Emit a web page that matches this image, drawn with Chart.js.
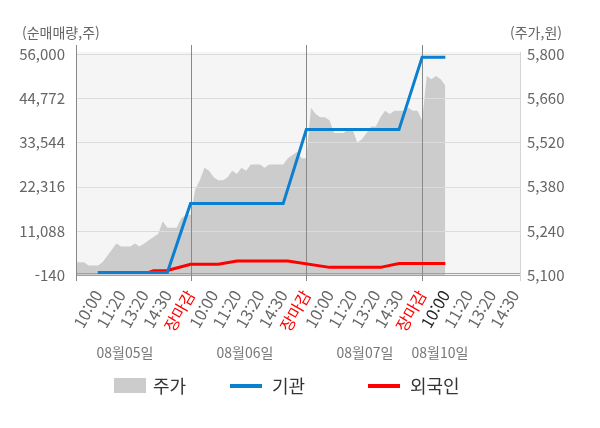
<!DOCTYPE html>
<html lang="ko">
<head>
<meta charset="utf-8">
<script src="https://cdn.jsdelivr.net/npm/chart.js@4.4.1/dist/chart.umd.min.js"></script>
<style>
  html, body { margin: 0; padding: 0; background: #fff; }
  #wrap { width: 600px; height: 428px; position: relative; }
</style>
</head>
<body>
<div id="wrap"><canvas id="chart"></canvas></div>
<script>
// x axis: one unit per time label
const TIME_LABELS = [
  '10:00', '11:20', '13:20', '14:30', '장마감',
  '10:00', '11:20', '13:20', '14:30', '장마감',
  '10:00', '11:20', '13:20', '14:30', '장마감',
  '10:00', '11:20', '13:20', '14:30'
];
const DAY_ENDS = [4, 9, 14];
const NOW_TICK = 15;
const DATE_LABELS = ['08월05일', '08월06일', '08월07일', '08월10일'];

const LEFT_TICKS = [-140, 11088, 22316, 33544, 44772, 56000];
const RIGHT_TICKS = [5100, 5240, 5380, 5520, 5660, 5800];

// price samples, every 0.2 label step starting at -1
const PRICE_X0 = -1;
const PRICE_STEP = 0.2;
const PRICE = [
  5140, 5140, 5140, 5130, 5130, 5130, 5140, 5160, 5180, 5200,
  5190, 5190, 5190, 5200, 5190, 5200, 5210, 5220, 5230, 5270,
  5250, 5250, 5250, 5280, 5290, 5290, 5370, 5400, 5440, 5430,
  5410, 5400, 5400, 5410, 5430, 5420, 5440, 5430, 5450, 5450,
  5450, 5440, 5450, 5450, 5450, 5450, 5470, 5480, 5490, 5470,
  5470, 5630, 5610, 5600, 5600, 5590, 5550, 5550, 5550, 5560,
  5560, 5520, 5530, 5550, 5570, 5570, 5600, 5620, 5610, 5620,
  5620, 5620, 5630, 5620, 5620, 5590, 5730, 5720, 5730, 5720,
  5700
];

// net buying, sample index on the same grid
const INST_AT = [5, 20, 25, 45, 50, 70, 75, 80];
const INST = [500, 500, 18000, 18000, 36800, 36800, 55200, 55200];
const FOREIGN_AT = [5, 16, 17, 20, 25, 31, 35, 46, 55, 66, 70, 80];
const FOREIGN = [500, 500, 950, 1000, 2600, 2600, 3400, 3400, 1800, 1800, 2800, 2800];

const atX = j => PRICE_X0 + j * PRICE_STEP;
const FONT = "'Noto Sans CJK KR', 'Noto Sans', sans-serif";
Chart.defaults.font.family = FONT;

const decor = {
  id: 'decor',
  beforeDatasetsDraw(chart) {
    const { ctx, chartArea: a } = chart;
    ctx.save();
    ctx.fillStyle = '#f5f5f5';
    ctx.fillRect(a.left, a.top - 2, a.right - a.left, a.bottom - a.top + 2);
    ctx.restore();
  },
  afterDatasetDraw(chart, args) {
    if (args.index !== 2) return;
    const { ctx, chartArea: a, scales } = chart;
    const px = v => Math.round(v) + 0.5;
    ctx.save();
    ctx.lineWidth = 1;
    ctx.strokeStyle = '#dcdcdc';
    LEFT_TICKS.forEach(t => {
      const y = px(scales.yL.getPixelForValue(t));
      ctx.beginPath(); ctx.moveTo(a.left, y); ctx.lineTo(a.right, y); ctx.stroke();
    });
    ctx.strokeStyle = '#a0a0a0';
    [a.bottom - 2.5, a.bottom].forEach(yy => {
      const y = px(yy);
      ctx.beginPath(); ctx.moveTo(a.left, y); ctx.lineTo(a.right, y); ctx.stroke();
    });
    ctx.strokeStyle = '#d4d4d4';
    ctx.beginPath(); ctx.moveTo(px(a.right), a.top - 2); ctx.lineTo(px(a.right), a.bottom + 6); ctx.stroke();
    ctx.strokeStyle = '#888';
    const vx = [a.left].concat(DAY_ENDS.map(k => scales.x.getPixelForValue(k)));
    vx.forEach(x => {
      ctx.beginPath(); ctx.moveTo(px(x), a.top - 9); ctx.lineTo(px(x), a.bottom + 6); ctx.stroke();
    });
    ctx.restore();
  },
  afterDraw(chart) {
    const { ctx } = chart;
    ctx.save();
    ctx.textBaseline = 'middle';
    ctx.fillStyle = '#666';
    ctx.font = '14px ' + FONT;
    ctx.textAlign = 'left';
    ctx.fillText('(순매매량,주)', 22, 33);
    ctx.textAlign = 'right';
    ctx.fillText('(주가,원)', 562, 33);

    ctx.fillStyle = '#777';
    ctx.textAlign = 'center';
    const dateX = [125, 245, 365, 440];
    DATE_LABELS.forEach((d, i) => ctx.fillText(d, dateX[i], 353));

    // legend
    const ly = 386;
    ctx.font = '18px ' + FONT;
    ctx.textAlign = 'left';
    ctx.fillStyle = '#cccccc';
    ctx.fillRect(114, ly - 8, 32, 15);
    ctx.lineWidth = 4;
    ctx.strokeStyle = '#0b7fd0';
    ctx.beginPath(); ctx.moveTo(230, ly); ctx.lineTo(262, ly); ctx.stroke();
    ctx.strokeStyle = '#ff0000';
    ctx.beginPath(); ctx.moveTo(368, ly); ctx.lineTo(400, ly); ctx.stroke();
    ctx.fillStyle = '#333';
    ctx.fillText('주가', 153, ly);
    ctx.fillText('기관', 272, ly);
    ctx.fillText('외국인', 410, ly);
    ctx.restore();
  }
};

new Chart(document.getElementById('chart'), {
  type: 'line',
  data: {
    datasets: [
      {
        label: '기관',
        yAxisID: 'yL',
        data: INST_AT.map((j, i) => ({ x: atX(j), y: INST[i] })),
        borderColor: '#0b7fd0',
        borderWidth: 3,
        pointRadius: 0,
        fill: false
      },
      {
        label: '외국인',
        yAxisID: 'yL',
        data: FOREIGN_AT.map((j, i) => ({ x: atX(j), y: FOREIGN[i] })),
        borderColor: '#ff0000',
        borderWidth: 3,
        pointRadius: 0,
        fill: false
      },
      {
        label: '주가',
        yAxisID: 'yR',
        data: PRICE.map((v, j) => ({ x: atX(j), y: v })),
        borderColor: '#cccccc',
        backgroundColor: '#cccccc',
        borderWidth: 0,
        pointRadius: 0,
        fill: 'start'
      }
    ]
  },
  options: {
    responsive: true,
    maintainAspectRatio: false,
    animation: false,
    layout: { padding: { top: 54, left: 0, right: 0, bottom: 0 } },
    plugins: { legend: { display: false }, tooltip: { enabled: false } },
    scales: {
      x: {
        type: 'linear',
        min: -0.9456,
        max: 18.225,
        afterBuildTicks: s => { s.ticks = TIME_LABELS.map((_, k) => ({ value: k })); },
        afterFit: s => { s.height = 153; },
        grid: { display: false, drawTicks: false },
        border: { display: false },
        ticks: {
          autoSkip: false,
          minRotation: 60,
          maxRotation: 60,
          padding: 12,
          font: { size: 16 },
          color: c => DAY_ENDS.includes(c.index) ? '#ff0000' : (c.index === NOW_TICK ? '#222' : '#666'),
          callback: (v, i) => TIME_LABELS[i]
        }
      },
      yL: {
        position: 'left',
        min: -140,
        max: 56000,
        afterBuildTicks: s => { s.ticks = LEFT_TICKS.map(v => ({ value: v })); },
        afterFit: s => { s.width = 76; },
        grid: { display: false, drawTicks: false },
        border: { display: false },
        ticks: {
          padding: 11,
          font: { size: 15 },
          color: '#666',
          callback: v => v.toLocaleString('en-US')
        }
      },
      yR: {
        position: 'right',
        min: 5100,
        max: 5800,
        afterBuildTicks: s => { s.ticks = RIGHT_TICKS.map(v => ({ value: v })); },
        afterFit: s => { s.width = 80; },
        grid: { display: false, drawTicks: false },
        border: { display: false },
        ticks: {
          padding: 7,
          font: { size: 15 },
          color: '#666',
          callback: v => v.toLocaleString('en-US')
        }
      }
    }
  },
  plugins: [decor]
});
</script>
</body>
</html>
